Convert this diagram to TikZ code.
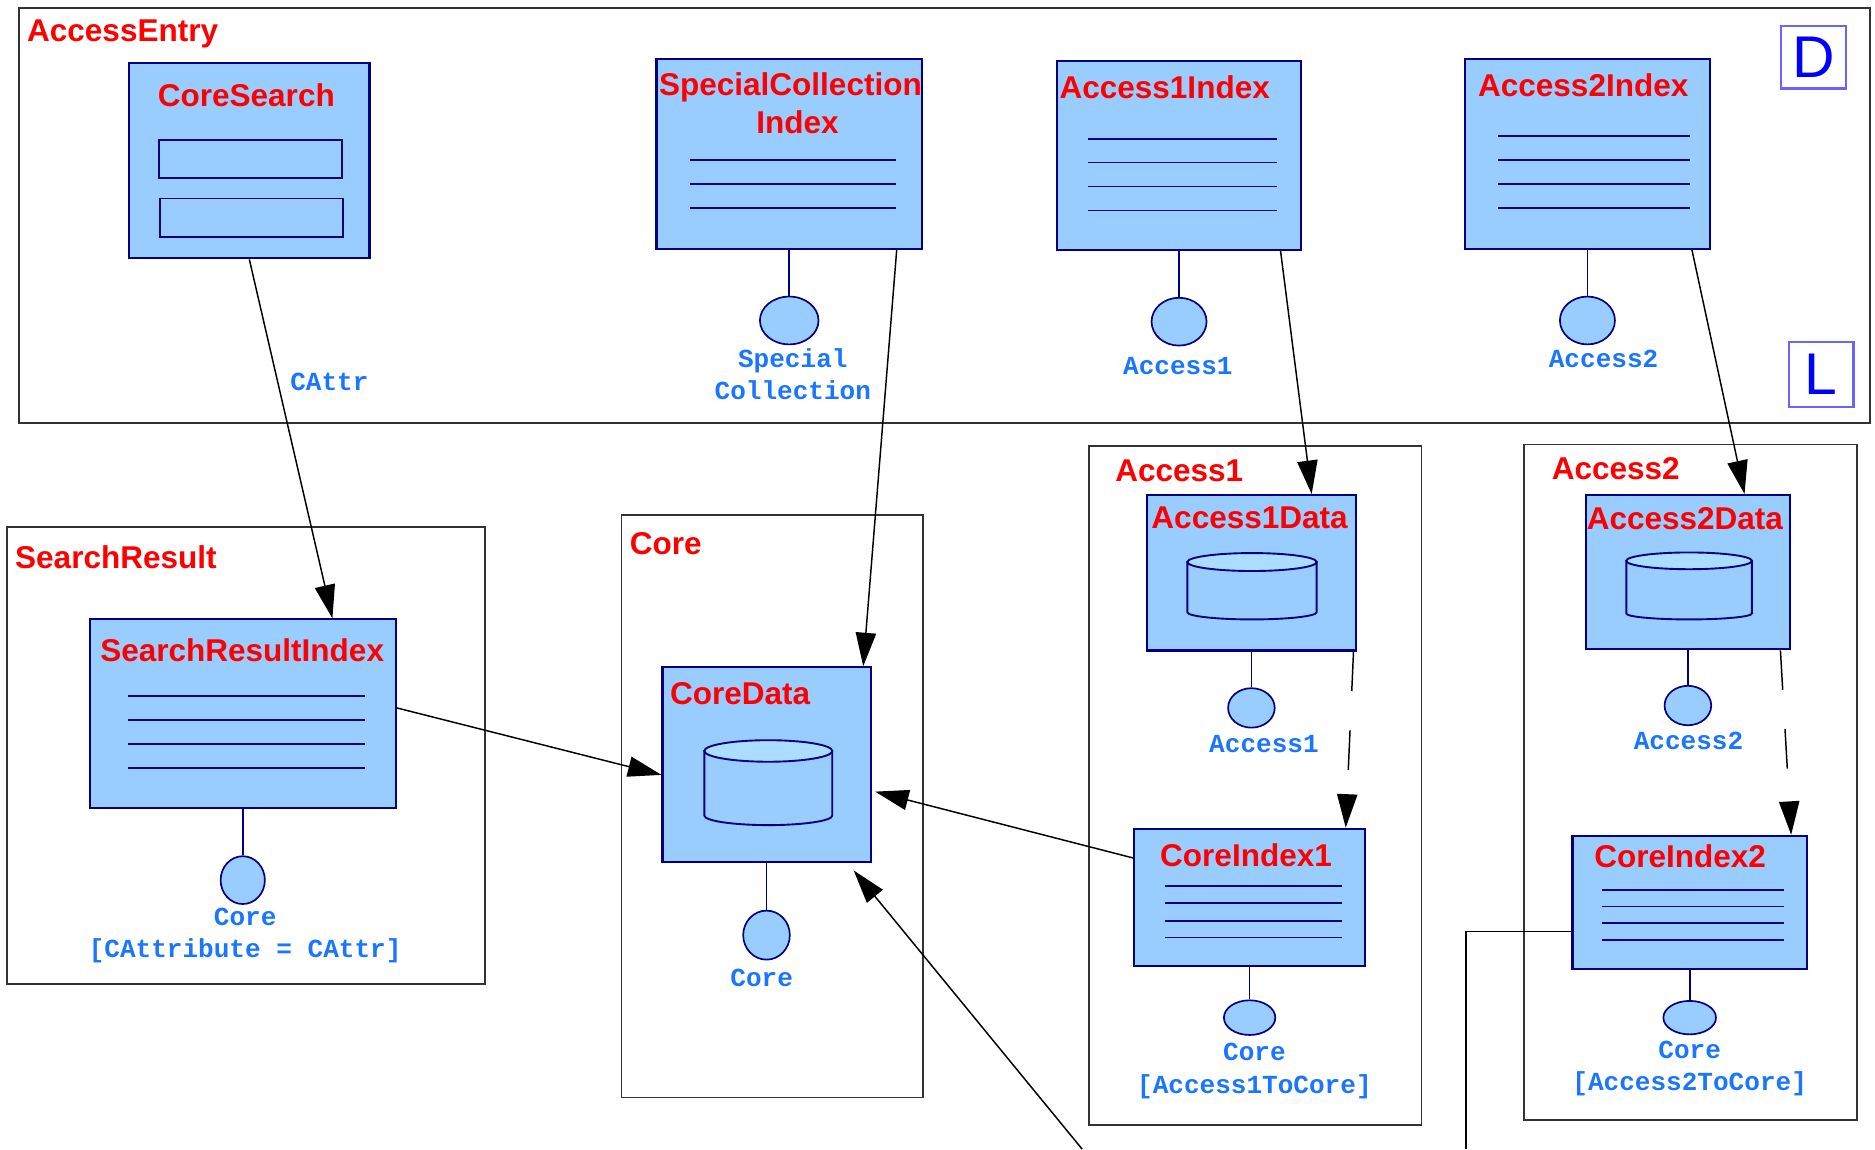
\documentclass[tikz,border=0pt]{standalone}
\usepackage{fontspec}
\setmainfont{Liberation Sans}
\newfontfamily\monof{Liberation Mono}
\usetikzlibrary{arrows.meta,shapes.geometric}

\definecolor{boxblue}{HTML}{99CCFF}
\definecolor{topblue}{HTML}{AADDFF}
\definecolor{navyline}{HTML}{000080}
\definecolor{titlered}{HTML}{FF0000}
\definecolor{labelblue}{HTML}{1A75FF}
\definecolor{framegray}{HTML}{333333}
\definecolor{letterblue}{HTML}{0000FF}
\definecolor{letteredge}{HTML}{6666FF}

\begin{document}
\begin{tikzpicture}[
  frame/.style={draw=framegray, line width=0.4pt, anchor=north west, inner sep=0},
  cls/.style={draw=navyline, fill=boxblue, line width=0.5pt, inner sep=0},
  ttl/.style={text=titlered, font=\bfseries\fontsize{7.5}{9.1}\selectfont, inner sep=0},
  lbl/.style={text=labelblue, font=\monof\bfseries\fontsize{6.2}{7.7}\selectfont, inner sep=0, align=center},
  lolly/.style={ellipse, draw=navyline, fill=boxblue, line width=0.4pt, inner sep=0},
  letterbox/.style={draw=letteredge, line width=0.5pt, text=letterblue, font=\fontsize{14}{14}\selectfont, inner sep=0},
  rule/.style={draw=navyline, line width=0.4pt},
  drum/.style={draw=navyline, fill=boxblue, line width=0.45pt},
  stem/.style={draw=navyline, line width=0.4pt},
  arr/.style={-{Triangle[length=0.28cm,width=0.17cm]}, line width=0.35pt, black},
  dasharr/.style={arr, dash pattern=on 0.33cm off 0.33cm}
]
\useasboundingbox (0,0) rectangle (15.68,-9.61);

% frames
\node [frame, minimum width=15.48cm, minimum height=3.47cm] (aeframe) at (0.15,-0.06) {};
\node [frame, minimum width=4.00cm, minimum height=3.82cm] (srframe) at (0.05,-4.40) {};
\node [frame, minimum width=2.52cm, minimum height=4.87cm] (coreframe) at (5.19,-4.30) {};
\node [frame, minimum width=2.78cm, minimum height=5.68cm] (a1frame) at (9.10,-3.72) {};
\node [frame, minimum width=2.78cm, minimum height=5.65cm] (a2frame) at (12.74,-3.71) {};

\node [ttl, anchor=west] (aename) at (0.22,-0.28) {AccessEntry};
\node [ttl, anchor=west] (srname) at (0.12,-4.66) {SearchResult};
\node [ttl, anchor=west] (corename) at (5.26,-4.55) {Core};
\node [ttl, anchor=west] (a1name) at (9.32,-3.94) {Access1};
\node [ttl, anchor=west] (a2name) at (12.97,-3.92) {Access2};

\node [letterbox, minimum width=0.55cm, minimum height=0.52cm] (dbox) at (15.165,-0.48) {D};
\node [letterbox, minimum width=0.54cm, minimum height=0.54cm] (lbox) at (15.23,-3.13) {L};

% boxes
\node [cls, minimum width=2.01cm, minimum height=1.63cm] (cs) at (2.085,-1.345) {};
\node [cls, minimum width=2.22cm, minimum height=1.59cm] (sci) at (6.60,-1.285) {};
\node [cls, minimum width=2.04cm, minimum height=1.58cm] (a1i) at (9.86,-1.30) {};
\node [cls, minimum width=2.05cm, minimum height=1.59cm] (a2i) at (13.275,-1.285) {};
\node [cls, minimum width=2.56cm, minimum height=1.58cm] (sri) at (2.03,-5.97) {};
\node [cls, minimum width=1.74cm, minimum height=1.63cm] (cd) at (6.41,-6.395) {};
\node [cls, minimum width=1.75cm, minimum height=1.30cm] (a1d) at (10.465,-4.79) {};
\node [cls, minimum width=1.93cm, minimum height=1.15cm] (ci1) at (10.45,-7.505) {};
\node [cls, minimum width=1.71cm, minimum height=1.29cm] (a2d) at (14.115,-4.785) {};
\node [cls, minimum width=1.96cm, minimum height=1.11cm] (ci2) at (14.13,-7.545) {};

\node [ttl] (cst) at (2.06,-0.80) {CoreSearch};
\node [ttl] (scit) at (6.61,-0.73) {SpecialCollection};
\node [ttl] (scit2) at (6.67,-1.02) {Index};
\node [ttl] (a1it) at (9.74,-0.73) {Access1Index};
\node [ttl] (a2it) at (13.24,-0.71) {Access2Index};
\node [ttl] (srit) at (2.025,-5.44) {SearchResultIndex};
\node [ttl] (cdt) at (6.19,-5.80) {CoreData};
\node [ttl] (a1dt) at (10.45,-4.33) {Access1Data};
\node [ttl] (a2dt) at (14.09,-4.34) {Access2Data};
\node [ttl] (ci1t) at (10.42,-7.15) {CoreIndex1};
\node [ttl] (ci2t) at (14.05,-7.16) {CoreIndex2};

% box contents
\draw [drum] (1.33,-1.17) rectangle (2.86,-1.49);
\draw [drum] (1.34,-1.66) rectangle (2.87,-1.98);

\draw [rule] (5.77,-1.34) -- (7.49,-1.34);
\draw [rule] (5.77,-1.54) -- (7.49,-1.54);
\draw [rule] (5.77,-1.74) -- (7.49,-1.74);

\draw [rule] (9.10,-1.16) -- (10.68,-1.16);
\draw [rule] (9.10,-1.36) -- (10.68,-1.36);
\draw [rule] (9.10,-1.56) -- (10.68,-1.56);
\draw [rule] (9.10,-1.76) -- (10.68,-1.76);

\draw [rule] (12.53,-1.14) -- (14.13,-1.14);
\draw [rule] (12.53,-1.34) -- (14.13,-1.34);
\draw [rule] (12.53,-1.54) -- (14.13,-1.54);
\draw [rule] (12.53,-1.74) -- (14.13,-1.74);

\draw [rule] (1.07,-5.82) -- (3.05,-5.82);
\draw [rule] (1.07,-6.02) -- (3.05,-6.02);
\draw [rule] (1.07,-6.22) -- (3.05,-6.22);
\draw [rule] (1.07,-6.42) -- (3.05,-6.42);

\draw [rule] (9.74,-7.41) -- (11.22,-7.41);
\draw [rule] (9.74,-7.55) -- (11.22,-7.55);
\draw [rule] (9.74,-7.70) -- (11.22,-7.70);
\draw [rule] (9.74,-7.84) -- (11.22,-7.84);

\draw [rule] (13.40,-7.44) -- (14.92,-7.44);
\draw [rule] (13.40,-7.58) -- (14.92,-7.58);
\draw [rule] (13.40,-7.72) -- (14.92,-7.72);
\draw [rule] (13.40,-7.86) -- (14.92,-7.86);

\draw [drum] (5.89,-6.28) -- (5.89,-6.82) arc [start angle=180, end angle=360, x radius=0.535, y radius=0.08] -- (6.96,-6.28) -- cycle;
\draw [drum, fill=topblue] (6.425,-6.28) ellipse [x radius=0.535, y radius=0.09];
\draw [drum] (9.93,-4.70) -- (9.93,-5.12) arc [start angle=180, end angle=360, x radius=0.54, y radius=0.06] -- (11.01,-4.70) -- cycle;
\draw [drum, fill=topblue] (10.47,-4.70) ellipse [x radius=0.54, y radius=0.075];
\draw [drum] (13.60,-4.69) -- (13.60,-5.13) arc [start angle=180, end angle=360, x radius=0.525, y radius=0.05] -- (14.65,-4.69) -- cycle;
\draw [drum, fill=topblue] (14.125,-4.69) ellipse [x radius=0.525, y radius=0.07];

% interfaces
\node [lolly, minimum width=0.49cm, minimum height=0.40cm] (scip) at (6.60,-2.68) {};
\node [lolly, minimum width=0.46cm, minimum height=0.40cm] (a1ip) at (9.86,-2.69) {};
\node [lolly, minimum width=0.46cm, minimum height=0.40cm] (a2ip) at (13.275,-2.68) {};
\node [lolly, minimum width=0.37cm, minimum height=0.40cm] (srip) at (2.03,-7.36) {};
\node [lolly, minimum width=0.39cm, minimum height=0.41cm] (cdp) at (6.41,-7.82) {};
\node [lolly, minimum width=0.39cm, minimum height=0.33cm] (a1dp) at (10.465,-5.92) {};
\node [lolly, minimum width=0.43cm, minimum height=0.29cm] (ci1p) at (10.45,-8.51) {};
\node [lolly, minimum width=0.39cm, minimum height=0.33cm] (a2dp) at (14.115,-5.90) {};
\node [lolly, minimum width=0.44cm, minimum height=0.28cm] (ci2p) at (14.13,-8.51) {};

\path [stem] (sci) edge (scip);
\path [stem] (a1i) edge (a1ip);
\path [stem] (a2i) edge (a2ip);
\path [stem] (sri) edge (srip);
\path [stem] (cd) edge (cdp);
\path [stem] (a1d) edge (a1dp);
\path [stem] (ci1) edge (ci1p);
\path [stem] (a2d) edge (a2dp);
\path [stem] (ci2) edge (ci2p);

\node [lbl] (scil) at (6.63,-3.13) {Special\\Collection};
\node [lbl] (a1il) at (9.85,-3.06) {Access1};
\node [lbl] (a2il) at (13.41,-3.00) {Access2};
\node [lbl] (sril) at (2.05,-7.825) {Core\\{[CAttribute = CAttr]}};
\node [lbl] (cdl) at (6.37,-8.18) {Core};
\node [lbl] (a1dl) at (10.57,-6.22) {Access1};
\node [lbl] (ci1l) at (10.49,-8.955) {Core\\{[Access1ToCore]}};
\node [lbl] (a2dl) at (14.12,-6.20) {Access2};
\node [lbl] (ci2l) at (14.13,-8.935) {Core\\{[Access2ToCore]}};

% connectors
\coordinate (offa) at (9.05,-9.61);
\coordinate (offb) at (12.26,-9.61);

\path [arr] (cs.south) edge node [lbl, right=0.1cm, pos=0.34] (cattr) {CAttr} ([xshift=0.75cm]sri.north);
\path [arr] ([xshift=-0.22cm]sci.south east) edge ([xshift=-0.07cm]cd.north east);
\path [arr] ([xshift=-0.18cm]a1i.south east) edge ([xshift=-0.38cm]a1d.north east);
\path [arr] ([xshift=-0.16cm]a2i.south east) edge ([xshift=-0.39cm]a2d.north east);
\path [arr] ([yshift=0.05cm]sri.east) edge ([yshift=-0.085cm]cd.west);
\path [arr] ([yshift=0.33cm]ci1.west) edge ([xshift=0.03cm,yshift=-0.225cm]cd.east);
\path [arr] (offa) edge ([xshift=-0.15cm,yshift=-0.06cm]cd.south east);
\path [dasharr] ([xshift=-0.03cm]a1d.south east) edge ([xshift=-0.17cm]ci1.north east);
\path [dasharr] ([xshift=-0.09cm]a2d.south east) edge ([xshift=-0.14cm]ci2.north east);
\draw [line width=0.35pt] ([yshift=-0.245cm]ci2.west) -| (offb);
\end{tikzpicture}
\end{document}
